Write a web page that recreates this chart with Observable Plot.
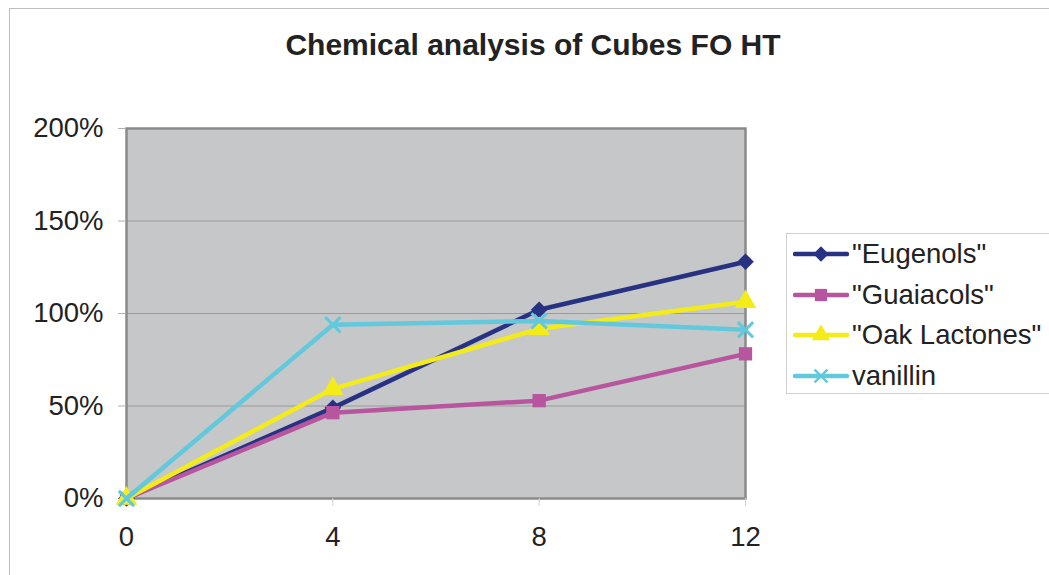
<!DOCTYPE html>
<html><head><meta charset="utf-8">
<script src="https://cdn.jsdelivr.net/npm/d3@7"></script>
<script src="https://cdn.jsdelivr.net/npm/@observablehq/plot@0.6"></script>
<style>
body{margin:0;background:#fff;font-family:"Liberation Sans",Arial,sans-serif;}
#wrap{position:relative;width:1049px;height:575px;overflow:hidden;background:#fff;}
#border{position:absolute;left:9px;top:8px;width:1100px;height:700px;border:1px solid #bdbdbd;}
#chart{position:absolute;left:0;top:0;}
#title{position:absolute;left:0;width:1066px;top:28px;text-align:center;font-weight:bold;font-size:30px;color:#222;line-height:34px;}
#legend{position:absolute;left:786px;top:233px;width:400px;height:159px;border:1px solid #d0d0d0;background:#fff;}
.row{position:absolute;left:6px;height:40px;display:flex;align-items:center;font-size:27.5px;color:#222;white-space:nowrap;}
.row svg{margin-right:3px;}
</style>
</head><body>
<div id="wrap"><div id="border"></div><div id="chart"></div><div id="title"></div><div id="legend"></div></div>
<script>
const titleText = "Chemical analysis of Cubes FO HT";
const weeks = [0, 4, 8, 12];
const seriesNames = ['"Eugenols"', '"Guaiacols"', '"Oak Lactones"', 'vanillin'];
const eugenols = [0, 0.49, 1.02, 1.28];
const guaiacols = [0, 0.464, 0.529, 0.782];
const oakLactones = [0, 0.593, 0.917, 1.063];
const vanillin = [0, 0.939, 0.96, 0.912];
const seriesColors = ["#283282", "#b8559f", "#f3ec19", "#62c9dd"];
const seriesSymbols = ["diamond2", "square", "triangle", "times"];
const xTicks = [0, 4, 8, 12];
const yTicks = [0, 0.5, 1, 1.5, 2];

const seriesValues = [eugenols, guaiacols, oakLactones, vanillin];
const data = [];
seriesNames.forEach((s, i) => weeks.forEach((w, j) => data.push({series: s, week: w, value: seriesValues[i][j], idx: i})));

document.getElementById("title").textContent = titleText;

const marks = [
  Plot.frame({fill: "#c6c7c9"}),
  Plot.gridY(yTicks.filter(d => d > 0 && d < 2), {stroke: "#9a9a9a", strokeOpacity: 1, strokeWidth: 1}),
  Plot.frame({stroke: "#8a8a8a", strokeWidth: 2.5}),
  Plot.axisY({ticks: yTicks, tickFormat: d3.format(".0%"), tickSize: 8, tickPadding: 15, fontSize: 27.5, stroke: "#b0b0b0", fill: "#222", label: null}),
  Plot.axisX({ticks: xTicks, tickSize: 8, tickPadding: 20, fontSize: 27.5, stroke: "#d0d0d0", fill: "#222", label: null})
];
seriesNames.forEach((s, i) => {
  const d = data.filter(r => r.idx === i);
  marks.push(Plot.line(d, {x: "week", y: "value", stroke: seriesColors[i], strokeWidth: 4.5}));
  if (seriesSymbols[i] === "times") {
    marks.push(Plot.dot(d, {x: "week", y: "value", symbol: "times", stroke: seriesColors[i], strokeWidth: 3, r: 7}));
  } else {
    marks.push(Plot.dot(d, {x: "week", y: "value", symbol: seriesSymbols[i], fill: seriesColors[i], stroke: "none", r: seriesSymbols[i] === "triangle" ? 8 : 7.5}));
  }
});

const chart = Plot.plot({
  width: 1049, height: 575,
  marginLeft: 126, marginRight: 304, marginTop: 128, marginBottom: 77,
  style: {fontFamily: "'Liberation Sans', Arial, sans-serif", fontSize: "27px", color: "#222", background: "transparent", overflow: "visible"},
  x: {domain: [0, 12], axis: null},
  y: {domain: [0, 2], axis: null},
  marks
});
document.getElementById("chart").append(chart);

// legend
const legend = document.getElementById("legend");
seriesNames.forEach((s, i) => {
  const row = document.createElement("div");
  row.className = "row";
  row.style.top = (i * 40.5 + 0) + "px";
  const svg = d3.create("svg").attr("width", 56).attr("height", 20);
  svg.append("line").attr("x1", 2).attr("x2", 54).attr("y1", 10).attr("y2", 10)
    .attr("stroke", seriesColors[i]).attr("stroke-width", 4.5).attr("stroke-linecap", "round");
  const symMap = {diamond2: d3.symbolDiamond2, square: d3.symbolSquare, triangle: d3.symbolTriangle, times: d3.symbolTimes};
  const p = svg.append("path").attr("transform", "translate(28,10)")
    .attr("d", d3.symbol(symMap[seriesSymbols[i]], seriesSymbols[i] === "times" ? 110 : 150)());
  if (seriesSymbols[i] === "times") p.attr("fill", "none").attr("stroke", seriesColors[i]).attr("stroke-width", 2.5);
  else p.attr("fill", seriesColors[i]);
  row.append(svg.node());
  const t = document.createElement("span");
  t.textContent = s;
  row.append(t);
  legend.append(row);
});
</script>
</body></html>
